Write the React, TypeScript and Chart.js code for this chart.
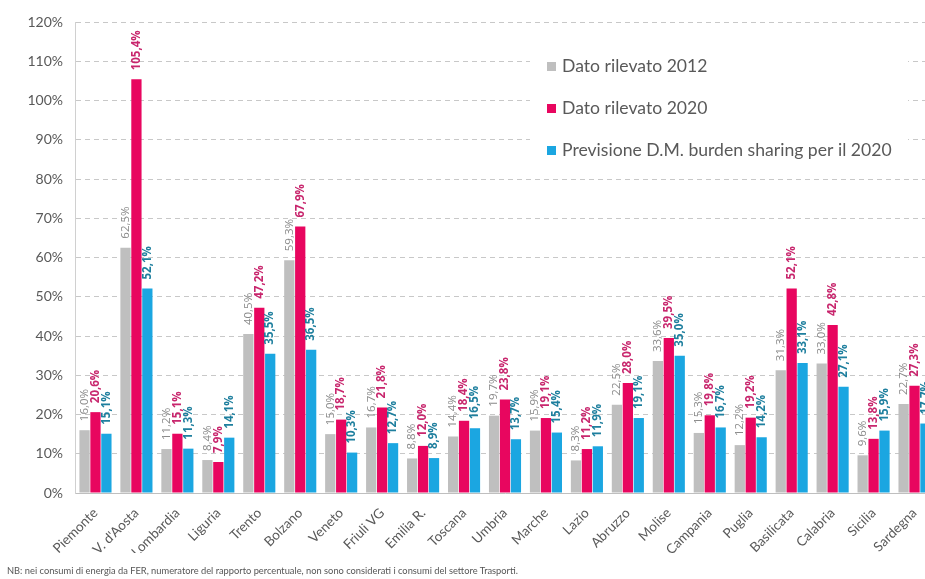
import React, { useEffect, useRef } from "react";
import { Chart, registerables } from "chart.js";

Chart.register(...registerables);

const categories = [
  "Piemonte", "V. d'Aosta", "Lombardia", "Liguria", "Trento", "Bolzano", "Veneto",
  "Friuli VG", "Emilia R.", "Toscana", "Umbria", "Marche", "Lazio", "Abruzzo",
  "Molise", "Campania", "Puglia", "Basilicata", "Calabria", "Sicilia", "Sardegna",
];

const dato2012 = [16.0, 62.5, 11.2, 8.4, 40.5, 59.3, 15.0, 16.7, 8.8, 14.4, 19.7, 15.9, 8.3, 22.5, 33.6, 15.3, 12.2, 31.3, 33.0, 9.6, 22.7];
const dato2020 = [20.6, 105.4, 15.1, 7.9, 47.2, 67.9, 18.7, 21.8, 12.0, 18.4, 23.8, 19.1, 11.2, 28.0, 39.5, 19.8, 19.2, 52.1, 42.8, 13.8, 27.3];
const previsione2020 = [15.1, 52.1, 11.3, 14.1, 35.5, 36.5, 10.3, 12.7, 8.9, 16.5, 13.7, 15.4, 11.9, 19.1, 35.0, 16.7, 14.2, 33.1, 27.1, 15.9, 17.7];

const seriesNames = [
  "Dato rilevato 2012",
  "Dato rilevato 2020",
  "Previsione D.M. burden sharing per il 2020",
];

const yTicks = [0, 10, 20, 30, 40, 50, 60, 70, 80, 90, 100, 110, 120];

const footnote =
  "NB: nei consumi di energia da FER, numeratore del rapporto percentuale, non sono considerati i consumi del settore Trasporti.";

const barColors = ["#bfbfbf", "#e8065f", "#1ba6e1"];
const labelColors = ["#8a8a8a", "#c8266d", "#1e7f9e"];
const labelBold = [false, true, true];

const fmt = (v: number) => v.toFixed(1).replace(".", ",") + "%";

const labelPlugin = {
  id: "barLabels",
  afterDatasetsDraw(chart: any) {
    const ctx = chart.ctx;
    chart.data.datasets.forEach((ds: any, di: number) => {
      const meta = chart.getDatasetMeta(di);
      meta.data.forEach((el: any, i: number) => {
        const v = ds.data[i];
        ctx.save();
        ctx.translate(el.x, el.y - 9);
        ctx.rotate(-Math.PI / 2);
        ctx.font = `${labelBold[di] ? "bold " : ""}11.5px "Open Sans"`;
        ctx.fillStyle = labelColors[di];
        ctx.textAlign = "left";
        ctx.textBaseline = "middle";
        ctx.fillText(fmt(v), 0, 0);
        ctx.restore();
      });
    });
  },
};

const legendPlugin = {
  id: "customLegend",
  beforeDatasetsDraw(chart: any) {
    const ctx = chart.ctx;
    ctx.save();
    ctx.fillStyle = "#ffffff";
    ctx.fillRect(530, 44, 378, 122);
    const rows = [66, 108, 150];
    ctx.font = "17.6px Lato";
    ctx.textBaseline = "middle";
    ctx.textAlign = "left";
    seriesNames.forEach((name, i) => {
      ctx.fillStyle = barColors[i];
      ctx.fillRect(547, rows[i] - 4, 9, 9);
      ctx.fillStyle = "#595959";
      ctx.fillText(name, 562, rows[i]);
    });
    ctx.restore();
  },
};

export default function App() {
  const ref = useRef<HTMLCanvasElement | null>(null);

  useEffect(() => {
    if (!ref.current) return;
    const chart = new Chart(ref.current, {
      type: "bar",
      data: {
        labels: categories,
        datasets: [dato2012, dato2020, previsione2020].map((d, i) => ({
          label: seriesNames[i],
          data: d,
          backgroundColor: barColors[i],
          borderWidth: 0,
          categoryPercentage: 0.8,
          barPercentage: 0.94,
        })),
      },
      options: {
        responsive: false,
        animation: false,
        devicePixelRatio: 1,
        layout: { padding: { left: 0, right: 5, top: 22, bottom: 26 } },
        plugins: {
          legend: { display: false },
          tooltip: { enabled: false },
        },
        scales: {
          x: {
            grid: { display: false },
            border: { display: true, color: "#bfbfbf", width: 1 },
            ticks: {
              maxRotation: 45,
              minRotation: 45,
              autoSkip: false,
              padding: 4,
              color: "#595959",
              font: { family: "Lato", size: 13.5 },
            },
            afterFit: (s: any) => {
              s.height = 60;
            },
          },
          y: {
            min: 0,
            max: 120,
            afterBuildTicks: (s: any) => {
              s.ticks = yTicks.map((v) => ({ value: v }));
            },
            grid: { color: "#c8c8c8", lineWidth: 1, drawTicks: false },
            border: { display: true, color: "#d0d0d0", width: 1, dash: [5, 4] },
            ticks: {
              padding: 12,
              color: "#595959",
              font: { family: "Lato", size: 14 },
              callback: (v: any) => v + "%",
            },
            afterFit: (s: any) => {
              s.width = 75;
            },
          },
        },
      },
      plugins: [legendPlugin, labelPlugin],
    });
    return () => chart.destroy();
  }, []);

  return (
    <div
      style={{
        position: "fixed",
        left: 0,
        top: 0,
        width: 925,
        height: 579,
        overflow: "hidden",
        background: "#ffffff",
      }}
    >
      <canvas ref={ref} width={940} height={579} style={{ display: "block" }} />
      <div
        style={{
          position: "absolute",
          left: 7,
          top: 565,
          fontFamily: "Lato",
          fontSize: 9.3,
          color: "#555555",
          whiteSpace: "nowrap",
        }}
      >
        {footnote}
      </div>
    </div>
  );
}
